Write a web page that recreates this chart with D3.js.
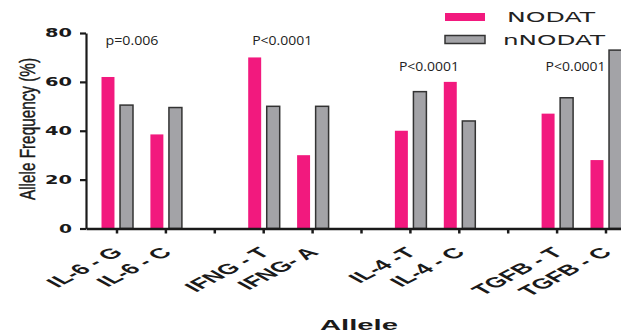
<!DOCTYPE html>
<html>
<head>
<meta charset="utf-8">
<script src="https://cdn.jsdelivr.net/npm/d3@7"></script>
<style>
  body { margin: 0; background: #fff; }
  svg { display: block; font-family: "Liberation Sans", Arial, sans-serif; }
</style>
</head>
<body>
<script>
const categories = ["IL-6 - G", "IL-6 - C", "", "IFNG - T", "IFNG- A", "", "IL-4 -T", "IL-4 - C", "", "TGFB - T", "TGFB - C"];
const nodat  = [62, 38.5, null, 70, 30, null, 40, 60, null, 47, 28];
const nnodat = [50.5, 49.5, null, 50, 50, null, 56, 44, null, 53.5, 73];
const series = ["NODAT", "nNODAT"];
const yTicks = [0, 20, 40, 60, 80];

// p-value notes: text, category it sits over, height in axis units
const pText = ["p=0.006", "P<0.0001", "P<0.0001", "P<0.0001"];
const pCat  = [0, 3, 6, 9];
const pVal  = [75.2, 75.2, 64.3, 64.3];

const width = 621, height = 334;
const pink = "#f2197e", grey = "#a3a3a7", dark = "#1a1a1a";

const svg = d3.select("body").append("svg")
              .attr("width", width)
              .attr("height", height);

const x = d3.scaleBand()
  .domain(categories.map((d, i) => i))
  .range([86, 637])
  .paddingInner(0)
  .paddingOuter(0.134);

const xs = d3.scaleBand()
  .domain(series)
  .range([-15.5, 16])
  .paddingInner(0.3);

const y = d3.scaleLinear()
  .domain([0, 80])
  .range([228.5, 33]);

const cx = i => x(i) + x.bandwidth() / 2;

// bars
const rows = categories.map((c, i) => ({i, vals: [nodat[i], nnodat[i]]}))
                       .filter(d => d.vals[0] != null);

const grp = svg.append("g").selectAll("g")
  .data(rows)
  .enter().append("g")
  .attr("transform", d => `translate(${cx(d.i)},0)`);

grp.selectAll("rect")
  .data(d => d.vals.map((v, k) => ({k, v})))
  .enter().append("rect")
  .attr("x", d => xs(series[d.k]))
  .attr("width", xs.bandwidth())
  .attr("y", d => y(d.v))
  .attr("height", d => y(0) - y(d.v))
  .attr("fill", d => d.k === 0 ? pink : grey)
  .attr("stroke", d => d.k === 0 ? "none" : "#333")
  .attr("stroke-width", 1.5);

// y axis
const yAxis = svg.append("g")
  .attr("transform", "translate(86,0)")
  .call(d3.axisLeft(y).tickValues(yTicks).tickSize(6).tickSizeOuter(0).tickPadding(8));

yAxis.select(".domain").attr("stroke", dark).attr("stroke-width", 2.2);
yAxis.selectAll(".tick line").attr("stroke", dark).attr("stroke-width", 2.2);
yAxis.selectAll(".tick text")
  .attr("fill", dark)
  .attr("font-size", 12.5)
  .attr("font-weight", 900)
  .attr("font-family", "'DejaVu Sans', sans-serif")
  .attr("dy", "0.3em")
  .attr("textLength", d => String(d).length * 14 - 1)
  .attr("lengthAdjust", "spacingAndGlyphs");

// x axis
const xAxis = svg.append("g")
  .attr("transform", `translate(0,${y(0)})`)
  .call(d3.axisBottom(x).tickSize(5).tickSizeOuter(0).tickFormat(i => categories[i]));

xAxis.select(".domain").attr("stroke", dark).attr("stroke-width", 2.5);
xAxis.selectAll(".tick line").attr("stroke", dark).attr("stroke-width", 2.5);
xAxis.selectAll(".tick text")
  .attr("fill", dark)
  .attr("font-size", 14.5)
  .attr("font-weight", "bold")
  .attr("y", 0)
  .attr("dy", 0)
  .attr("text-anchor", "end")
  .attr("transform", "translate(7,25) scale(1.85,1) rotate(-44)");

// p-values
svg.append("g").selectAll("text")
  .data(pText)
  .enter().append("text")
  .attr("x", (d, i) => cx(pCat[i]) + xs(series[0]) + 4)
  .attr("y", (d, i) => y(pVal[i]))
  .attr("font-family", "'Open Sans', sans-serif")
  .attr("font-size", 13)
  .attr("fill", "#222")
  .attr("textLength", d => d.length === 7 ? 53 : 60)
  .attr("lengthAdjust", "spacingAndGlyphs")
  .text(d => d);

// axis titles
svg.append("text")
  .attr("transform", "translate(35,129) scale(1.5,1) rotate(-90)")
  .attr("text-anchor", "middle")
  .attr("font-size", 15.3)
  .attr("fill", dark)
  .attr("stroke", dark)
  .attr("stroke-width", 0.3)
  .attr("textLength", 142)
  .attr("lengthAdjust", "spacingAndGlyphs")
  .text("Allele Frequency (%)");

svg.append("text")
  .attr("x", 359)
  .attr("y", 330)
  .attr("text-anchor", "middle")
  .attr("font-size", 15)
  .attr("font-weight", "bold")
  .attr("fill", dark)
  .attr("textLength", 78)
  .attr("lengthAdjust", "spacingAndGlyphs")
  .text("Allele");

// legend
const legend = svg.append("g").selectAll("g")
  .data(series)
  .enter().append("g")
  .attr("transform", (d, i) => `translate(445,${13 + i * 22.5})`);

legend.append("rect")
  .attr("width", 40)
  .attr("height", 8)
  .attr("fill", (d, i) => i === 0 ? pink : grey)
  .attr("stroke", (d, i) => i === 0 ? "none" : "#333")
  .attr("stroke-width", 1.5);

legend.append("text")
  .attr("x", (d, i) => i === 0 ? 62 : 58)
  .attr("y", 9)
  .attr("font-family", "'DejaVu Sans', sans-serif")
  .attr("font-size", 14)
  .attr("fill", "#222")
  .attr("textLength", (d, i) => i === 0 ? 88 : 102)
  .attr("lengthAdjust", "spacingAndGlyphs")
  .text(d => d);
</script>
</body>
</html>
